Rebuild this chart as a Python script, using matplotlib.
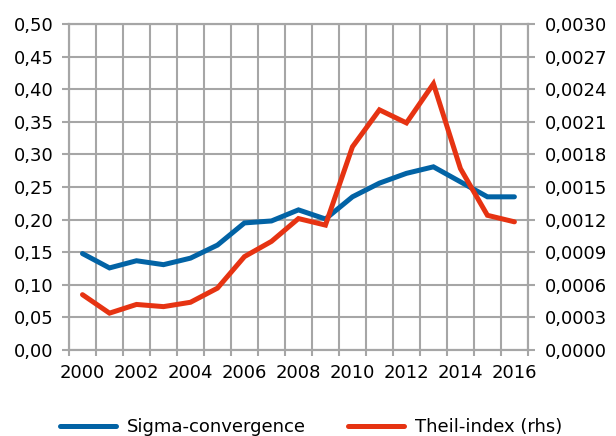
import matplotlib
matplotlib.use("Agg")
import matplotlib.pyplot as plt
from matplotlib.ticker import FixedLocator, FuncFormatter

# Yearly series, 2000-2016
years = list(range(2000, 2017))
sigma = [0.148, 0.126, 0.137, 0.131, 0.141, 0.161, 0.195, 0.198, 0.215,
         0.201, 0.235, 0.256, 0.271, 0.281, 0.258, 0.235, 0.235]
theil = [0.00051, 0.00034, 0.00042, 0.00040, 0.00044, 0.00057, 0.00086,
         0.00100, 0.00121, 0.00115, 0.00187, 0.00221, 0.00209, 0.00245,
         0.00167, 0.00124, 0.00118]

BLUE = "#0263a5"
RED = "#e63312"
GRID = "#a6a6a6"

plt.rcParams["font.family"] = ["DejaVu Sans"]
plt.rcParams["font.size"] = 13

fig = plt.figure(figsize=(6.16, 4.36), dpi=100)
ax = fig.add_axes([0.112, 0.197, 0.745, 0.748])
ax2 = ax.twinx()

x = list(range(len(years)))
l1, = ax.plot(x, sigma, color=BLUE, lw=3.6, solid_capstyle="round",
              solid_joinstyle="miter", label="Sigma-convergence", zorder=3)
l2, = ax2.plot(x, theil, color=RED, lw=3.6, solid_capstyle="round",
               solid_joinstyle="miter", label="Theil-index (rhs)", zorder=3)

ax.set_xlim(-0.5, len(years) - 0.5)
ax.set_ylim(0, 0.5)
ax2.set_ylim(0, 0.003)

# category axis: gridlines at the boundaries, labels every second year
ax.xaxis.set_major_locator(FixedLocator(x[::2]))
ax.set_xticklabels([str(y) for y in years[::2]])
ax.xaxis.set_minor_locator(FixedLocator([i - 0.5 for i in range(len(years) + 1)]))
ax.tick_params(axis="x", which="major", length=0, pad=10)
ax.tick_params(axis="x", which="minor", length=4.5, width=1.5, color=GRID)
ax.grid(True, axis="x", which="minor", color=GRID, lw=1.5)

ax.set_yticks([i * 0.05 for i in range(11)])
ax.yaxis.set_major_formatter(FuncFormatter(lambda v, p: f"{v:.2f}".replace(".", ",")))
ax.tick_params(axis="y", length=5, width=1.5, color=GRID, pad=6)
ax.grid(True, axis="y", color=GRID, lw=1.5)

ax2.set_yticks([i * 0.0003 for i in range(11)])
ax2.yaxis.set_major_formatter(FuncFormatter(lambda v, p: f"{v:.4f}".replace(".", ",")))
ax2.tick_params(axis="y", length=5, width=1.5, color=GRID, pad=7)

for a in (ax, ax2):
    for s in a.spines.values():
        s.set_color(GRID)
        s.set_linewidth(1.5)
    a.set_axisbelow(True)

fig.legend([l1, l2], [l1.get_label(), l2.get_label()], loc="center",
           bbox_to_anchor=(0.505, 0.02), ncol=2, frameon=False,
           handlelength=3.1, handletextpad=0.6, columnspacing=2.3)

fig.savefig("out.png", dpi=100)
